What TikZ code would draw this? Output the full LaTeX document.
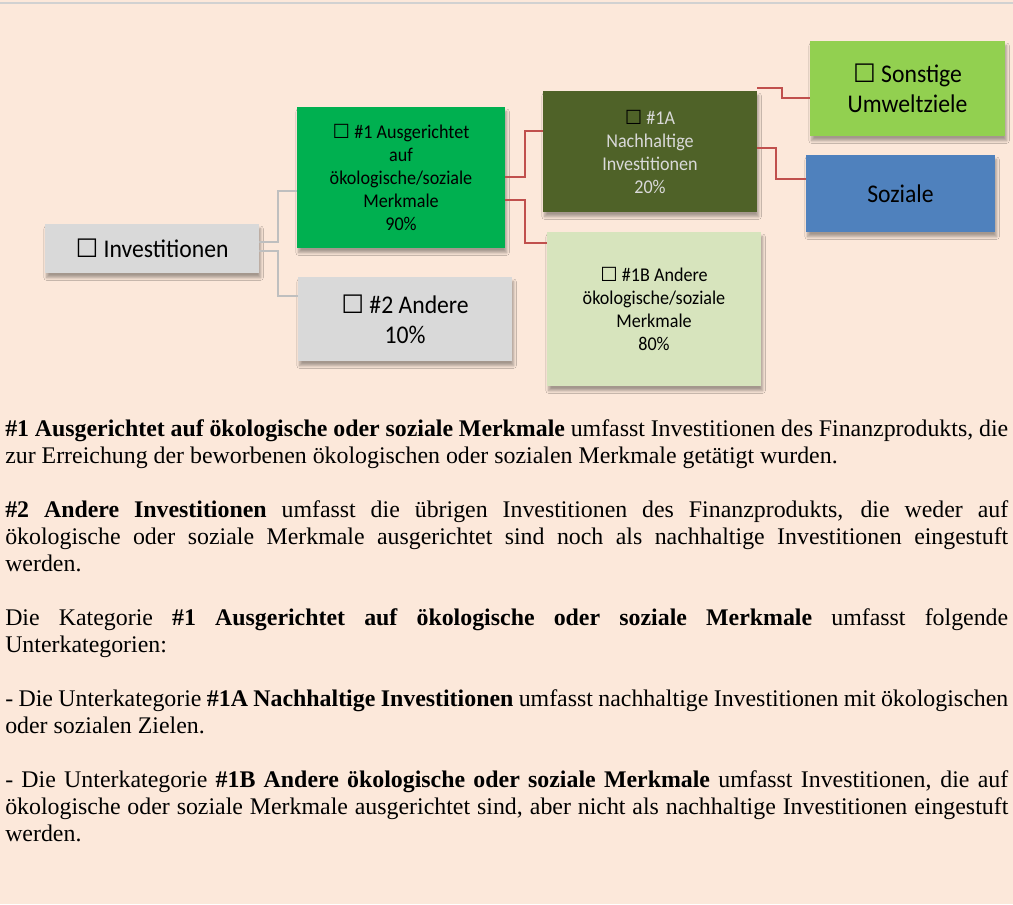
\documentclass[tikz,border=0pt]{standalone}
\usepackage{fontspec}
\setmainfont{Liberation Serif}
\newfontfamily\boxfont{Carlito}[FakeStretch=0.93]
\newfontfamily\symfont{DejaVu Sans}
\usetikzlibrary{positioning, shadows.blur}
\definecolor{peach}{HTML}{FCE8DA}
\definecolor{boxgray}{HTML}{D9D9D9}
\definecolor{mgreen}{HTML}{00B050}
\definecolor{dolive}{HTML}{4F6228}
\definecolor{lgreen}{HTML}{D7E4BD}
\definecolor{lime}{HTML}{92D050}
\definecolor{sblue}{HTML}{4F81BD}
\definecolor{redline}{HTML}{C0504D}
\definecolor{grayline}{HTML}{BFBFBF}
\newcommand{\tickbox}{{\symfont\char"2610}}

\begin{document}
\begin{tikzpicture}[
                  x = 0.75pt, y = -0.75pt,
                  cat/.style   = {inner sep=2pt, align=center, text=black,
                                  blur shadow={shadow xshift=1.2pt, shadow yshift=-3.5pt, shadow blur radius=2pt,
                                               shadow blur steps=6, shadow opacity=35}},
                  big/.style   = {font=\boxfont\fontsize{19.1}{22.5}\selectfont},
                  small/.style = {font=\boxfont\fontsize{14.6}{17.25}\selectfont},
                  gline/.style = {grayline, line width=1.5pt},
                  rline/.style = {redline, line width=1.5pt}
            ]
            \path[fill=peach, use as bounding box] (0,0) rectangle (1013,904);
            \draw[black!18, line width=1.5pt] (0,2.5) -- (1013,2.5);

            % Kategorien
            \node[cat, big, fill=boxgray, minimum width=160.5pt, minimum height=36.75pt] (inv) at (152,248.5) {\tickbox\ Investitionen};
            \node[cat, small, fill=mgreen, minimum width=156pt, minimum height=105.75pt] (one) at (401,177.5)
                  {\tickbox\ \#1 Ausgerichtet\\auf\\ökologische/soziale\\Merkmale\\90\%};
            \node[cat, big, fill=boxgray, minimum width=160.5pt, minimum height=63pt] (two) at (405,319) {\tickbox\ \#2 Andere\\10\%};
            \node[cat, small, fill=dolive, text=boxgray, minimum width=160.5pt, minimum height=90.75pt] (oneA) at (650,151.5)
                  {{\color{black}\tickbox} \#1A\\Nachhaltige\\Investitionen\\20\%};
            \node[cat, small, fill=lgreen, minimum width=160.5pt, minimum height=115.5pt] (oneB) at (654,309)
                  {\tickbox\ \#1B Andere\\ökologische/soziale\\Merkmale\\80\%};
            \node[cat, big, fill=lime, minimum width=146.25pt, minimum height=71.25pt] (env) at (907.5,88.5) {\tickbox\ Sonstige\\Umweltziele};
            \node[cat, big, fill=sblue, minimum width=141.75pt, minimum height=57.75pt] (soc) at (900.5,193.5) {Soziale};

            % Verbindungen
            \draw[gline] (inv.east |- 0,242) -| (278,191) -- (one.west |- 0,191);
            \draw[gline] (inv.east |- 0,251) -| (278,296) -- (two.west |- 0,296);
            \draw[rline] (one.east |- 0,177) -| (525,131) -- (oneA.west |- 0,131);
            \draw[rline] (one.east |- 0,200) -| (525,243) -- (oneB.west |- 0,243);
            \draw[rline] (oneA.east |- 0,88) -| (782,98) -- (env.west |- 0,98);
            \draw[rline] (oneA.east |- 0,148) -| (776,179) -- (soc.west |- 0,179);

            % Erlaeuterungen
            \node[anchor=north west, inner sep=0pt, text width=752.25pt, align=justify,
                  font=\fontsize{17.9}{20.1}\selectfont,
                  execute at begin node={\tolerance=10000\relax\hyphenpenalty=10000\relax}] (notes) at (5,417.5)
                  {\strut\textbf{\#1 Ausgerichtet auf ökologische oder soziale Merkmale} umfasst Investitionen des Finanzprodukts, die\linebreak
                   zur Erreichung der beworbenen ökologischen oder sozialen Merkmale getätigt wurden.\\[20.6pt]
                   \textbf{\#2 Andere Investitionen} umfasst die übrigen Investitionen des Finanzprodukts, die weder auf\linebreak
                   ökologische oder soziale Merkmale ausgerichtet sind noch als nachhaltige Investitionen eingestuft\linebreak
                   werden.\\[20.6pt]
                   Die Kategorie \textbf{\#1 Ausgerichtet auf ökologische oder soziale Merkmale} umfasst folgende\linebreak
                   Unterkategorien:\\[20.6pt]
                   - Die Unterkategorie \textbf{\#1A Nachhaltige Investitionen} umfasst nachhaltige Investitionen mit ökologischen\linebreak
                   oder sozialen Zielen.\\[20.6pt]
                   - Die Unterkategorie \textbf{\#1B Andere ökologische oder soziale Merkmale} umfasst Investitionen, die auf\linebreak
                   ökologische oder soziale Merkmale ausgerichtet sind, aber nicht als nachhaltige Investitionen eingestuft\linebreak
                   werden.};
      \end{tikzpicture}
\end{document}
